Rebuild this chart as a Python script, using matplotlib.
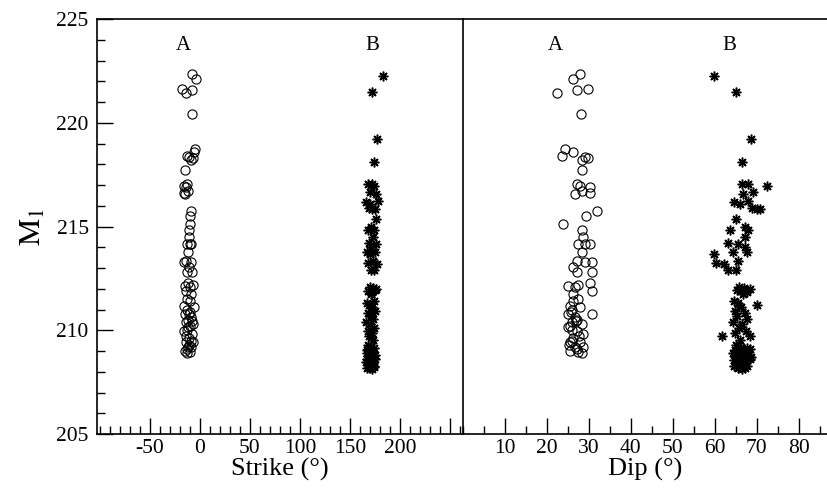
import numpy as np
import matplotlib.pyplot as plt
from matplotlib.ticker import MultipleLocator

plt.rcParams['font.family'] = ['Liberation Serif', 'DejaVu Serif']
plt.rcParams['mathtext.fontset'] = 'stix'

# ---------------------------------------------------------------
# Group A: M1 value with its strike and dip
# ---------------------------------------------------------------
m1_a = [222.34, 222.13, 221.65, 221.41, 221.60, 220.42, 218.75, 218.38, 218.59, 218.22,
        218.35, 218.32, 217.71, 217.03, 216.93, 216.58, 216.71, 216.90, 216.61, 215.74,
        215.53, 215.13, 214.81, 214.49, 214.16, 214.16, 214.16, 213.76, 213.36, 213.04,
        213.28, 213.28, 212.79, 212.79, 212.15, 212.07, 212.20, 212.26, 211.91, 211.75,
        211.51, 211.18, 211.10, 210.78, 210.78, 210.62, 210.38, 210.30, 210.14, 209.98,
        209.82, 209.65, 209.41, 209.41, 209.17, 209.17, 209.01, 208.93, 208.88, 211.00,
        210.90, 210.50, 210.20, 210.00, 209.70, 209.50, 209.30, 209.10, 211.40, 210.45]
strike_a = [-8, -4, -18, -14, -8, -8, -5, -13, -6, -9,
            -11, -7, -15, -13, -16, -15, -12, -14, -16, -9,
            -10, -10, -11, -11, -13, -9, -10, -12, -14, -11,
            -9, -16, -13, -8, -15, -10, -7, -12, -14, -9,
            -13, -16, -6, -11, -15, -9, -14, -7, -12, -16,
            -8, -11, -14, -7, -12, -9, -15, -10, -13, -13,
            -10, -12, -10, -13, -14, -9, -11, -13, -10, -8]
dip_a = [27.8, 26.2, 29.7, 22.4, 27.1, 28.2, 24.2, 23.7, 26.3, 28.3,
         29.1, 29.9, 28.3, 27.1, 27.9, 26.7, 28.3, 30.3, 30.3, 31.9,
         29.4, 23.8, 28.3, 28.7, 27.5, 29.1, 30.3, 28.3, 27.1, 26.3,
         29.1, 30.7, 27.1, 30.7, 25.1, 26.7, 27.5, 30.3, 30.7, 26.3,
         27.5, 25.5, 27.9, 30.7, 25.1, 26.7, 25.9, 28.3, 25.1, 27.1,
         28.7, 26.3, 25.5, 27.9, 26.7, 28.7, 25.5, 27.5, 28.3, 26.0,
         25.8, 27.2, 25.6, 25.9, 27.6, 26.1, 25.3, 27.1, 26.2, 27.0]

# ---------------------------------------------------------------
# Group B
# ---------------------------------------------------------------
m1_b = [222.25, 221.49, 219.20, 218.09, 217.03, 217.03, 216.58, 216.64, 216.93, 216.18,
        216.10, 216.23, 215.90, 215.86, 215.84, 215.36, 215.00, 214.84, 214.81, 214.49,
        214.20, 214.16, 214.00, 213.76, 213.76, 213.68, 213.36, 213.23, 213.20, 212.91,
        212.88, 212.10, 212.05, 212.00, 211.90, 211.85, 211.95, 211.75, 211.22, 211.40,
        211.30, 211.10, 210.95, 210.85, 210.70, 210.55, 210.40, 210.30, 210.10, 209.95,
        209.74, 209.85, 209.70, 209.55, 209.30, 209.20, 209.15, 209.05, 209.00, 208.95,
        208.90, 208.85, 208.80, 208.75, 208.70, 208.65, 208.60, 208.55, 208.50, 208.45,
        208.40, 208.35, 208.30, 208.25, 208.20, 208.15, 208.60, 209.10, 208.90, 208.45,
        208.30, 208.70, 208.20]
strike_b = [183, 172, 177, 174, 168, 172, 176, 170, 174, 166,
            170, 178, 169, 175, 172, 176, 171, 174, 168, 173,
            169, 176, 171, 167, 175, 170, 173, 168, 177, 171,
            174, 170, 173, 176, 168, 172, 175, 171, 169, 174,
            167, 172, 175, 168, 171, 173, 166, 170, 174, 168,
            171, 172, 169, 173, 168, 171, 174, 167, 170, 173,
            169, 172, 175, 168, 171, 174, 167, 170, 173, 169,
            172, 168, 171, 174, 170, 172, 175, 168, 167, 166,
            174, 169, 167]
dip_b = [59.8, 65.1, 68.6, 66.6, 66.6, 68.0, 66.7, 69.2, 72.4, 64.7,
         66.0, 68.0, 69.0, 70.0, 70.8, 65.1, 67.1, 68.0, 63.6, 67.2,
         63.1, 65.6, 67.2, 64.3, 67.6, 59.8, 65.6, 60.2, 62.2, 63.2,
         65.1, 65.8, 67.0, 68.5, 66.3, 67.8, 65.4, 66.8, 70.0, 64.6,
         65.6, 66.3, 64.9, 67.2, 65.3, 67.8, 64.4, 66.6, 65.9, 67.5,
         61.7, 64.8, 68.4, 66.1, 65.0, 66.2, 67.6, 64.9, 66.7, 68.0,
         65.5, 67.1, 64.8, 66.3, 67.9, 65.2, 66.8, 64.6, 67.4, 65.8,
         66.9, 65.1, 67.6, 66.2, 65.6, 66.6, 68.3, 68.4, 64.4, 66.0,
         64.7, 68.6, 67.3]

strike_ticks = [-50, 0, 50, 100, 150, 200, 250]
strike_labels = ['-50', '0', '50', '100', '150', '200', '']
dip_ticks = [10, 20, 30, 40, 50, 60, 70, 80]

fig = plt.figure(figsize=(8.28, 4.91), dpi=100)
x0, xm, x1 = 97 / 828, 463 / 828, 828 / 828
y0, y1 = 1 - 434 / 491, 1 - 19 / 491
ax1 = fig.add_axes([x0, y0, xm - x0, y1 - y0])
ax2 = fig.add_axes([xm, y0, x1 - xm, y1 - y0], sharey=ax1)

circle_kw = dict(linestyle='none', marker='o', markersize=6.6, markerfacecolor='none',
                 markeredgecolor='black', markeredgewidth=0.8)
star_kw = dict(linestyle='none', marker=(8, 2, 0), markersize=7, color='black',
               markeredgewidth=1.1)

ax1.plot(strike_a, m1_a, **circle_kw)
ax1.plot(strike_b, m1_b, **star_kw)
ax2.plot(dip_a, m1_a, **circle_kw)
ax2.plot(dip_b, m1_b, **star_kw)

ax1.set_xlim(-103, 263)
ax2.set_xlim(0, 87)
ax1.set_ylim(205, 225)

ax1.text(-17, 223.7, 'A', ha='center', va='center', fontsize=15)
ax1.text(172, 223.7, 'B', ha='center', va='center', fontsize=15)
ax2.text(22, 223.7, 'A', ha='center', va='center', fontsize=15)
ax2.text(63.5, 223.7, 'B', ha='center', va='center', fontsize=15)

ax1.set_xticks(strike_ticks)
ax1.set_xticklabels(strike_labels)
ax1.xaxis.set_minor_locator(MultipleLocator(10))
ax2.set_xticks(dip_ticks)
ax2.xaxis.set_minor_locator(MultipleLocator(5))
ax1.yaxis.set_major_locator(MultipleLocator(5))
ax1.yaxis.set_minor_locator(MultipleLocator(1))

for ax in (ax1, ax2):
    ax.tick_params(which='major', direction='in', length=11.5, width=1.0, labelsize=15.5,
                   top=False, right=False)
    ax.tick_params(which='minor', direction='in', length=5.5, width=1.0,
                   top=False, right=False)
    for sp in ax.spines.values():
        sp.set_linewidth(1.2)
ax1.tick_params(axis='y', which='major', pad=6)
ax2.tick_params(axis='y', which='both', left=False, labelleft=False)
ax1.spines['right'].set_visible(False)
ax2.spines['right'].set_visible(False)

ax1.set_xlabel('Strike (°)', fontsize=19, labelpad=0)
ax2.set_xlabel('Dip (°)', fontsize=19, labelpad=0)
ax1.set_ylabel(r'$\mathrm{M}_1$', fontsize=22, labelpad=6)

fig.savefig('out.png', dpi=100)
